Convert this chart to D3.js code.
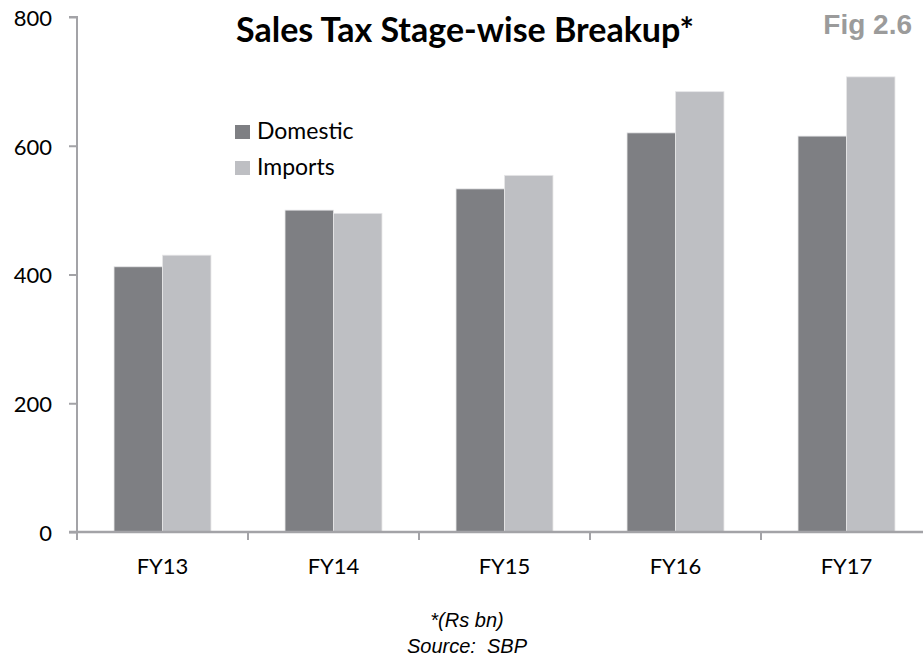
<!DOCTYPE html>
<html>
<head>
<meta charset="utf-8">
<script src="https://cdn.jsdelivr.net/npm/d3@7"></script>
<style>
  body { margin: 0; background: #fff; }
  text { font-family: Lato, "Open Sans", sans-serif; }
</style>
</head>
<body>
<svg id="chart" width="923" height="660"></svg>
<script>
let years = ["FY13", "FY14", "FY15", "FY16", "FY17"]
let series = ["Domestic", "Imports"]
let domestic = [412, 500, 533, 620, 615]
let imports = [430, 495, 554, 684, 707]
let yTicks = [0, 200, 400, 600, 800]

let colors = { Domestic: "#7e7f83", Imports: "#bebfc3" }
let axisColor = "#a3a3a7"

let svg = d3.select("#chart")

let plotLeft = 77, plotTop = 17, plotBottom = 532
let step = 171

let data = years.map((y, i) => ({ year: y, Domestic: domestic[i], Imports: imports[i] }))

let yScale = d3.scaleLinear().domain([0, 800]).range([plotBottom, plotTop])

let xScale = d3.scaleBand().domain(years)
    .range([plotLeft, plotLeft + step * years.length])
    .paddingInner(0.433)
    .paddingOuter(0.2165)

let xSub = d3.scaleBand().domain(series).range([0, xScale.bandwidth()])

// bars
let groups = svg.selectAll("g.year")
    .data(data)
    .enter()
    .append("g")
    .attr("class", "year")
    .attr("transform", d => `translate(${xScale(d.year)},0)`)

groups.selectAll("rect")
    .data(d => series.map(s => ({ key: s, value: d[s] })))
    .enter()
    .append("rect")
    .attr("x", d => xSub(d.key))
    .attr("y", d => yScale(d.value))
    .attr("width", xSub.bandwidth())
    .attr("height", d => plotBottom - yScale(d.value))
    .style("fill", d => colors[d.key])
    .style("stroke", "#e6e6e8")
    .style("stroke-width", 0.8)

// y axis
let yAxis = d3.axisLeft(yScale).tickValues(yTicks).tickSize(8).tickPadding(17)
let yAxisGroup = svg.append("g")
    .attr("transform", `translate(${plotLeft},0)`)
    .call(yAxis)
yAxisGroup.select(".domain").attr("stroke", axisColor).attr("stroke-width", 2)
    .attr("d", `M-8,${plotTop}H0V${plotBottom}`)
yAxisGroup.selectAll(".tick line").attr("stroke", axisColor).attr("stroke-width", 2)
yAxisGroup.selectAll(".tick text")
    .style("font-size", "22px")
    .style("fill", "#000")
    .attr("dy", "0.38em")

// x axis
let xAxis = d3.axisBottom(xScale).tickSize(0).tickPadding(26)
let xAxisGroup = svg.append("g")
    .attr("transform", `translate(0,${plotBottom})`)
    .call(xAxis)
xAxisGroup.select(".domain").attr("stroke", axisColor).attr("stroke-width", 2.5)
    .attr("d", `M${plotLeft - 8},0H${plotLeft + step * years.length}`)
xAxisGroup.selectAll(".tick text")
    .style("font-size", "22px")
    .style("fill", "#000")

// tick marks at category boundaries
xAxisGroup.selectAll("line.bound")
    .data(years)
    .enter()
    .append("line")
    .attr("class", "bound")
    .attr("x1", d => xScale(d) - xScale.step() * xScale.paddingOuter())
    .attr("x2", d => xScale(d) - xScale.step() * xScale.paddingOuter())
    .attr("y1", 0)
    .attr("y2", 8)
    .attr("stroke", axisColor)
    .attr("stroke-width", 2)

// title
svg.append("text")
    .attr("x", 465)
    .attr("y", 42)
    .attr("text-anchor", "middle")
    .style("font-size", "34px")
    .style("font-weight", "bold")
    .style("fill", "#000")
    .text("Sales Tax Stage-wise Breakup*")

svg.append("text")
    .attr("x", 912)
    .attr("y", 34)
    .attr("text-anchor", "end")
    .style("font-family", "'Liberation Sans', Arial, sans-serif")
    .style("font-size", "28px")
    .style("font-weight", "bold")
    .style("fill", "#9b9b9b")
    .text("Fig 2.6")

// legend
let legend = svg.selectAll("g.legend")
    .data(series)
    .enter()
    .append("g")
    .attr("class", "legend")
    .attr("transform", (d, i) => `translate(235,${125 + i * 36})`)

legend.append("rect")
    .attr("width", 15)
    .attr("height", 14)
    .style("fill", d => colors[d])

legend.append("text")
    .attr("x", 22)
    .attr("y", 14)
    .style("font-size", "23px")
    .style("fill", "#000")
    .text(d => d)

// footnotes
let notes = ["*(Rs bn)", "Source:  SBP"]
svg.selectAll("text.note")
    .data(notes)
    .enter()
    .append("text")
    .attr("class", "note")
    .attr("x", 467)
    .attr("y", (d, i) => 627 + i * 26)
    .attr("text-anchor", "middle")
    .style("white-space", "pre")
    .style("font-family", "'Liberation Sans', Arial, sans-serif")
    .style("font-style", "italic")
    .style("font-size", "20px")
    .style("fill", "#000")
    .text(d => d)
</script>
</body>
</html>
